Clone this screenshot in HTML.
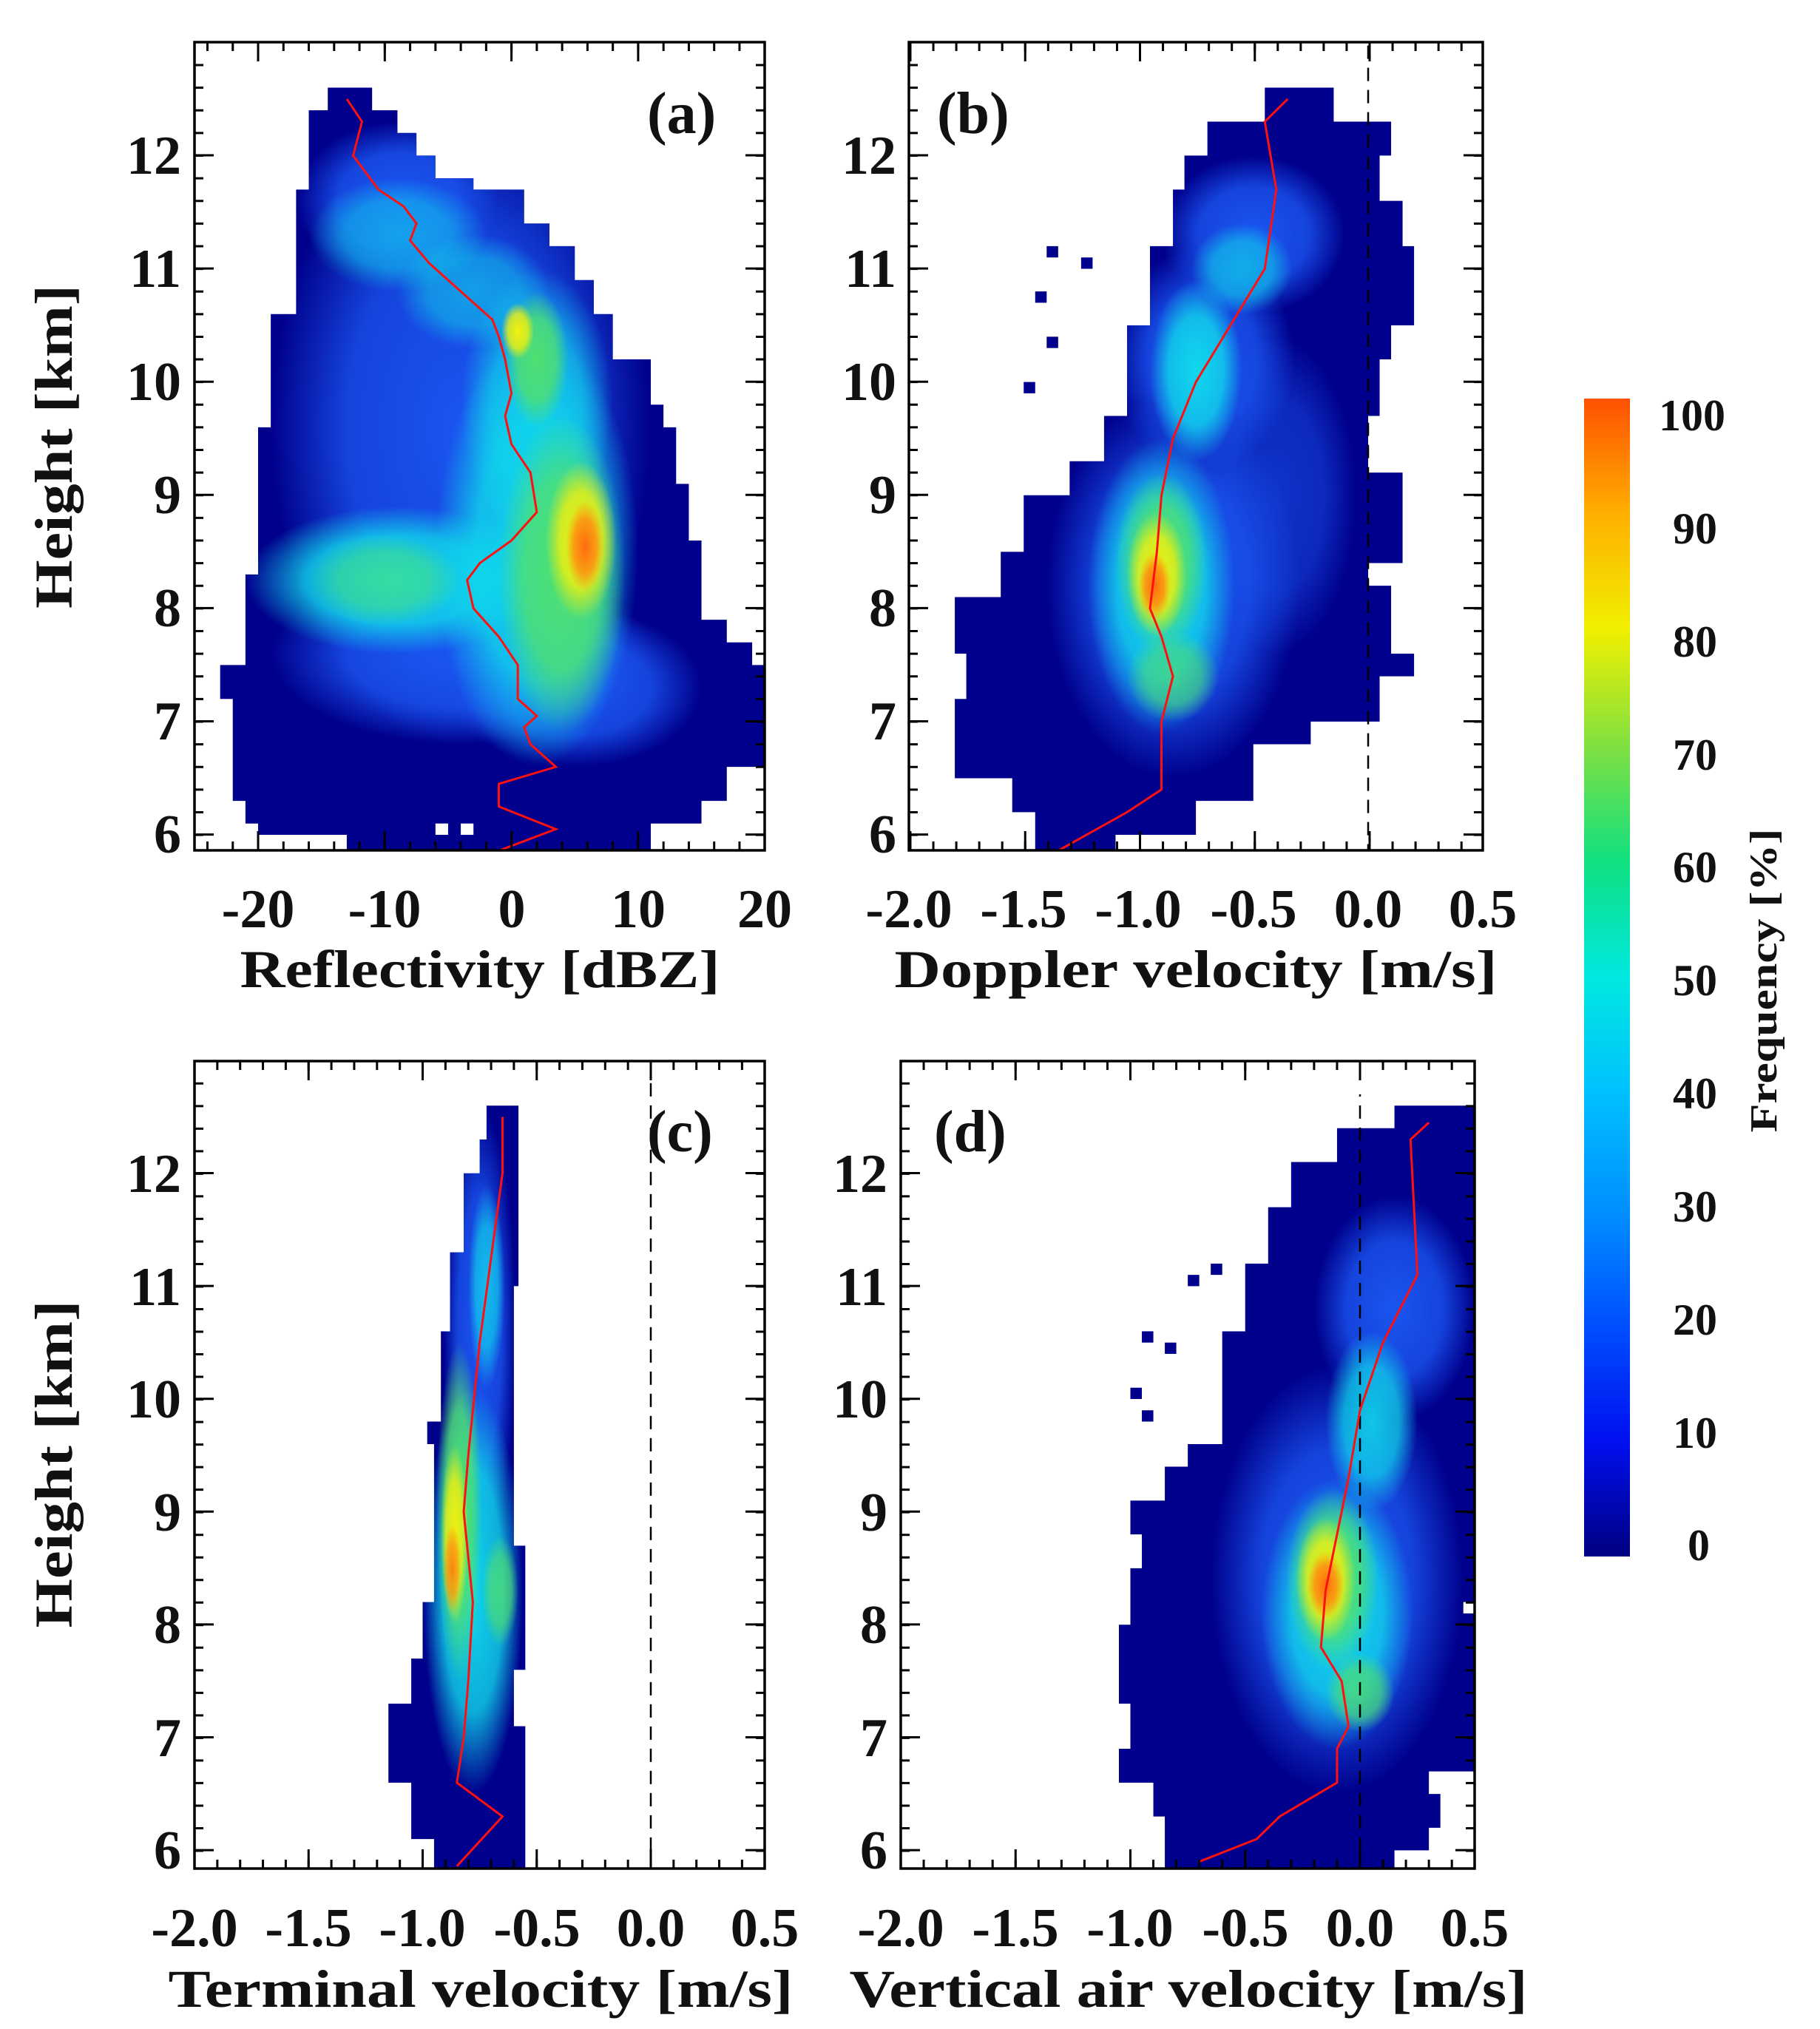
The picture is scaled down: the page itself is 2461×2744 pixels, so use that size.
<!DOCTYPE html>
<html><head><meta charset="utf-8"><style>
html,body{margin:0;padding:0;background:#fff;}
svg{display:block;}
text{font-family:"Liberation Serif",serif;font-weight:bold;fill:#111;}
</style></head><body>
<svg width="2461" height="2744" viewBox="0 0 2461 2744" xmlns="http://www.w3.org/2000/svg">
<defs>
<radialGradient id="gB"><stop offset="0" stop-color="#1a55f0" stop-opacity="1"/><stop offset="0.6" stop-color="#1a55f0" stop-opacity="0.8"/><stop offset="1" stop-color="#1a55f0" stop-opacity="0"/></radialGradient>
<radialGradient id="gC"><stop offset="0" stop-color="#10d8ec" stop-opacity="1"/><stop offset="0.6" stop-color="#10d8ec" stop-opacity="0.8"/><stop offset="1" stop-color="#10d8ec" stop-opacity="0"/></radialGradient>
<radialGradient id="gG"><stop offset="0" stop-color="#50e070" stop-opacity="1"/><stop offset="0.6" stop-color="#50e070" stop-opacity="0.8"/><stop offset="1" stop-color="#50e070" stop-opacity="0"/></radialGradient>
<radialGradient id="gY"><stop offset="0" stop-color="#f0f010" stop-opacity="1"/><stop offset="0.6" stop-color="#f0f010" stop-opacity="0.8"/><stop offset="1" stop-color="#f0f010" stop-opacity="0"/></radialGradient>
<radialGradient id="gO"><stop offset="0" stop-color="#ff6a10" stop-opacity="1"/><stop offset="0.6" stop-color="#ff8a10" stop-opacity="0.8"/><stop offset="1" stop-color="#ff9a10" stop-opacity="0"/></radialGradient>
<linearGradient id="cb" x1="0" y1="1" x2="0" y2="0">
<stop offset="0" stop-color="#000080"/><stop offset="0.1" stop-color="#0010f0"/><stop offset="0.2" stop-color="#0050ff"/><stop offset="0.3" stop-color="#0090ff"/><stop offset="0.4" stop-color="#00c0ff"/><stop offset="0.5" stop-color="#00e8e0"/><stop offset="0.6" stop-color="#10e080"/><stop offset="0.7" stop-color="#80e040"/><stop offset="0.8" stop-color="#f0f000"/><stop offset="0.9" stop-color="#ffb000"/><stop offset="1" stop-color="#ff5000"/>
</linearGradient>
<clipPath id="ca"><rect x="263" y="57" width="771" height="1093"/></clipPath>
<clipPath id="cbp"><rect x="1229" y="57" width="776" height="1093"/></clipPath>
<clipPath id="cc"><rect x="263" y="1435" width="771" height="1092"/></clipPath>
<clipPath id="cd"><rect x="1218" y="1435" width="776" height="1092"/></clipPath>
<clipPath id="pa"><polygon points="-14.5,12.6 -11,12.6 -11,12.4 -9,12.4 -9,12.2 -7.5,12.2 -7.5,12.0 -6,12.0 -6,11.8 -3,11.8 -3,11.7 1,11.7 1,11.4 3,11.4 3,11.2 5,11.2 5,10.9 6.5,10.9 6.5,10.6 8,10.6 8,10.2 11,10.2 11,9.8 12,9.8 12,9.6 13,9.6 13,9.1 14,9.1 14,8.6 15,8.6 15,7.9 17,7.9 17,7.7 19,7.7 19,7.5 21,7.5 21,6.6 17,6.6 17,6.3 15,6.3 15,6.1 11,6.1 11,5.8 -13,5.8 -13,6.0 -20,6.0 -20,6.1 -21,6.1 -21,6.3 -22,6.3 -22,7.2 -23,7.2 -23,7.5 -21,7.5 -21,8.3 -20,8.3 -20,9.6 -19,9.6 -19,10.6 -17,10.6 -17,11.7 -16,11.7 -16,12.4 -14.5,12.4"/></clipPath>
<clipPath id="pb"><polygon points="-0.45,12.6 -0.15,12.6 -0.15,12.3 0.1,12.3 0.1,12.0 0.05,12.0 0.05,11.6 0.15,11.6 0.15,11.2 0.2,11.2 0.2,10.5 0.1,10.5 0.1,10.2 0.05,10.2 0.05,9.7 0.0,9.7 0.0,9.2 0.15,9.2 0.15,8.4 0.0,8.4 0.0,8.2 0.1,8.2 0.1,7.6 0.2,7.6 0.2,7.4 0.05,7.4 0.05,7.0 -0.25,7.0 -0.25,6.8 -0.5,6.8 -0.5,6.3 -0.75,6.3 -0.75,6.0 -1.1,6.0 -1.1,5.8 -1.45,5.8 -1.45,6.2 -1.55,6.2 -1.55,6.5 -1.8,6.5 -1.8,7.2 -1.75,7.2 -1.75,7.6 -1.8,7.6 -1.8,8.1 -1.6,8.1 -1.6,8.5 -1.5,8.5 -1.5,9.0 -1.3,9.0 -1.3,9.3 -1.15,9.3 -1.15,9.7 -1.05,9.7 -1.05,10.5 -0.95,10.5 -0.95,11.2 -0.85,11.2 -0.85,11.7 -0.8,11.7 -0.8,12.0 -0.7,12.0 -0.7,12.3 -0.45,12.3"/></clipPath>
<clipPath id="pc"><polygon points="-0.72,12.6 -0.58,12.6 -0.58,11.0 -0.6,11.0 -0.6,8.7 -0.55,8.7 -0.55,7.6 -0.6,7.6 -0.6,7.1 -0.55,7.1 -0.55,5.8 -0.95,5.8 -0.95,6.1 -1.05,6.1 -1.05,6.6 -1.15,6.6 -1.15,7.3 -1.05,7.3 -1.05,7.7 -1.0,7.7 -1.0,8.2 -0.95,8.2 -0.95,9.6 -0.98,9.6 -0.98,9.8 -0.92,9.8 -0.92,10.6 -0.88,10.6 -0.88,11.3 -0.82,11.3 -0.82,12.0 -0.75,12.0 -0.75,12.3 -0.72,12.3"/></clipPath>
<clipPath id="pd"><polygon points="0.15,12.6 0.5,12.6 0.5,8.2 0.45,8.2 0.45,8.1 0.5,8.1 0.5,6.7 0.3,6.7 0.3,6.5 0.35,6.5 0.35,6.2 0.3,6.2 0.3,6.0 0.15,6.0 0.15,5.8 -0.85,5.8 -0.85,6.3 -0.9,6.3 -0.9,6.6 -1.05,6.6 -1.05,6.9 -1.0,6.9 -1.0,7.3 -1.05,7.3 -1.05,8.0 -1.0,8.0 -1.0,8.5 -0.95,8.5 -0.95,8.8 -1.0,8.8 -1.0,9.1 -0.85,9.1 -0.85,9.4 -0.75,9.4 -0.75,9.6 -0.6,9.6 -0.6,10.6 -0.5,10.6 -0.5,11.2 -0.4,11.2 -0.4,11.7 -0.3,11.7 -0.3,12.1 -0.1,12.1 -0.1,12.4 0.15,12.4"/></clipPath>
</defs>

<!-- Panel a -->
<g clip-path="url(#ca)">
<g transform="matrix(17.13 0 0 -153.1 691.6 2047.6)">
<rect x="-30" y="5" width="60" height="9" fill="#00008c" clip-path="url(#pa)"/>
<rect x="-6" y="6.0" width="1" height="0.1" fill="#fff"/><rect x="-4" y="6.0" width="1" height="0.1" fill="#fff"/>
<g clip-path="url(#pa)">
<ellipse cx="-4" cy="9.6" rx="15" ry="2.8" fill="url(#gB)"/>
<ellipse cx="-4" cy="7.6" rx="15" ry="0.8" fill="url(#gB)"/>
<ellipse cx="-9" cy="11.6" rx="8" ry="0.7" fill="url(#gB)"/>
<ellipse cx="5" cy="7.3" rx="10" ry="0.7" fill="url(#gB)"/>
<ellipse cx="-9" cy="11.3" rx="7" ry="0.5" fill="url(#gC)" opacity="0.6"/>
<ellipse cx="-3" cy="10.8" rx="6" ry="0.5" fill="url(#gC)" opacity="0.6"/>
<ellipse cx="-9" cy="8.25" rx="12" ry="0.65" fill="url(#gC)"/>
<ellipse cx="2" cy="8.5" rx="8" ry="1.9" fill="url(#gC)"/>
<ellipse cx="2" cy="9.8" rx="6" ry="1.2" fill="url(#gC)" opacity="0.8"/>
<ellipse cx="-10" cy="8.25" rx="6" ry="0.4" fill="url(#gG)" opacity="0.6"/>
<ellipse cx="4" cy="8.3" rx="5" ry="1.4" fill="url(#gG)"/>
<ellipse cx="2" cy="10.2" rx="2.5" ry="0.6" fill="url(#gG)"/>
<ellipse cx="5.5" cy="8.6" rx="2.8" ry="0.7" fill="url(#gY)"/>
<ellipse cx="0.5" cy="10.45" rx="1.3" ry="0.25" fill="url(#gY)"/>
<ellipse cx="5.8" cy="8.55" rx="1.5" ry="0.4" fill="url(#gO)"/>
</g>
<polyline fill="none" stroke="#ff1010" stroke-width="3" vector-effect="non-scaling-stroke" points="-13,12.5 -11.8,12.3 -12.5,12.0 -10.5,11.7 -8.5,11.55 -7.5,11.4 -8,11.25 -6.5,11.05 -4,10.8 -1.5,10.55 -1,10.4 -0.5,10.2 0,9.9 -0.5,9.7 0,9.45 1.5,9.2 2,8.85 0,8.6 -2.5,8.4 -3.5,8.25 -3,8.0 -1,7.75 0.5,7.5 0.5,7.2 2,7.05 1,6.95 1.5,6.8 3.5,6.6 -1,6.45 -1,6.25 3.5,6.05 -1,5.86"/>
</g></g>

<!-- Panel b -->
<g clip-path="url(#cbp)">
<g transform="matrix(310.5 0 0 -153.1 1850 2047.6)">
<rect x="-3" y="5" width="4" height="9" fill="#00008c" clip-path="url(#pb)"/>
<rect x="-1.4" y="11.1" width="0.05" height="0.1" fill="#00008c"/><rect x="-1.25" y="11.0" width="0.05" height="0.1" fill="#00008c"/><rect x="-1.45" y="10.7" width="0.05" height="0.1" fill="#00008c"/><rect x="-1.4" y="10.3" width="0.05" height="0.1" fill="#00008c"/><rect x="-1.5" y="9.9" width="0.05" height="0.1" fill="#00008c"/>
<g clip-path="url(#pb)">
<ellipse cx="-0.5" cy="11.3" rx="0.4" ry="0.7" fill="url(#gB)"/>
<ellipse cx="-0.72" cy="10.2" rx="0.4" ry="1.0" fill="url(#gB)"/>
<ellipse cx="-0.85" cy="8.2" rx="0.55" ry="1.7" fill="url(#gB)"/>
<ellipse cx="-0.4" cy="9.0" rx="0.35" ry="1.4" fill="url(#gB)" opacity="0.6"/>
<ellipse cx="-0.55" cy="11.0" rx="0.22" ry="0.4" fill="url(#gC)" opacity="0.7"/>
<ellipse cx="-0.75" cy="10.1" rx="0.2" ry="0.8" fill="url(#gC)"/>
<ellipse cx="-0.9" cy="8.2" rx="0.32" ry="1.3" fill="url(#gC)"/>
<ellipse cx="-0.9" cy="8.4" rx="0.2" ry="0.8" fill="url(#gG)"/>
<ellipse cx="-0.85" cy="7.4" rx="0.2" ry="0.4" fill="url(#gG)" opacity="0.7"/>
<ellipse cx="-0.92" cy="8.3" rx="0.13" ry="0.55" fill="url(#gY)"/>
<ellipse cx="-0.93" cy="8.2" rx="0.07" ry="0.3" fill="url(#gO)"/>
</g>
<line x1="0" y1="5.8" x2="0" y2="13" stroke="#000" stroke-width="2.5" stroke-dasharray="18 12" vector-effect="non-scaling-stroke"/>
<polyline fill="none" stroke="#ff1010" stroke-width="3" vector-effect="non-scaling-stroke" points="-0.35,12.5 -0.45,12.3 -0.4,11.7 -0.45,11.0 -0.6,10.5 -0.75,10.0 -0.85,9.5 -0.9,9.0 -0.92,8.5 -0.95,8.0 -0.9,7.75 -0.85,7.4 -0.9,7.0 -0.9,6.4 -1.05,6.2 -1.35,5.86"/>
</g></g>

<!-- Panel c -->
<g clip-path="url(#cc)">
<g transform="matrix(308.5 0 0 -152.6 880 3418)">
<rect x="-3" y="5" width="4" height="9" fill="#00008c" clip-path="url(#pc)"/>
<g clip-path="url(#pc)">
<ellipse cx="-0.75" cy="10.6" rx="0.16" ry="2.0" fill="url(#gB)"/>
<ellipse cx="-0.78" cy="8.3" rx="0.22" ry="1.8" fill="url(#gC)"/>
<ellipse cx="-0.72" cy="11.0" rx="0.08" ry="0.9" fill="url(#gC)" opacity="0.8"/>
<ellipse cx="-0.84" cy="9.0" rx="0.1" ry="1.5" fill="url(#gG)"/>
<ellipse cx="-0.66" cy="8.3" rx="0.08" ry="0.5" fill="url(#gG)" opacity="0.8"/>
<ellipse cx="-0.86" cy="8.8" rx="0.06" ry="0.8" fill="url(#gY)"/>
<ellipse cx="-0.87" cy="8.5" rx="0.04" ry="0.4" fill="url(#gO)" opacity="0.8"/>
</g>
<line x1="0" y1="5.8" x2="0" y2="13" stroke="#000" stroke-width="2.5" stroke-dasharray="18 12" vector-effect="non-scaling-stroke"/>
<polyline fill="none" stroke="#ff1010" stroke-width="3" vector-effect="non-scaling-stroke" points="-0.65,12.5 -0.65,12 -0.75,10.5 -0.8,9.5 -0.82,9 -0.78,8.2 -0.8,7.5 -0.82,7 -0.85,6.6 -0.65,6.3 -0.85,5.86"/>
</g></g>

<!-- Panel d -->
<g clip-path="url(#cd)">
<g transform="matrix(310.5 0 0 -152.6 1839 3418)">
<rect x="-3" y="5" width="4" height="9" fill="#00008c" clip-path="url(#pd)"/>
<rect x="-0.95" y="10.5" width="0.05" height="0.1" fill="#00008c"/><rect x="-0.85" y="10.4" width="0.05" height="0.1" fill="#00008c"/><rect x="-1.0" y="10.0" width="0.05" height="0.1" fill="#00008c"/><rect x="-0.95" y="9.8" width="0.05" height="0.1" fill="#00008c"/><rect x="-0.75" y="11.0" width="0.05" height="0.1" fill="#00008c"/><rect x="-0.65" y="11.1" width="0.05" height="0.1" fill="#00008c"/>
<g clip-path="url(#pd)">
<ellipse cx="0.15" cy="10.8" rx="0.35" ry="1.0" fill="url(#gB)"/>
<ellipse cx="-0.1" cy="8.4" rx="0.55" ry="1.9" fill="url(#gB)"/>
<ellipse cx="0.05" cy="9.8" rx="0.2" ry="0.8" fill="url(#gC)" opacity="0.9"/>
<ellipse cx="-0.1" cy="8.1" rx="0.33" ry="1.2" fill="url(#gC)"/>
<ellipse cx="-0.12" cy="8.4" rx="0.2" ry="0.8" fill="url(#gG)"/>
<ellipse cx="0.0" cy="7.4" rx="0.15" ry="0.35" fill="url(#gG)" opacity="0.8"/>
<ellipse cx="-0.15" cy="8.4" rx="0.13" ry="0.55" fill="url(#gY)"/>
<ellipse cx="-0.15" cy="8.35" rx="0.08" ry="0.3" fill="url(#gO)"/>
</g>
<line x1="0" y1="5.8" x2="0" y2="12.7" stroke="#000" stroke-width="2.5" stroke-dasharray="18 12" vector-effect="non-scaling-stroke"/>
<polyline fill="none" stroke="#ff1010" stroke-width="3" vector-effect="non-scaling-stroke" points="0.3,12.45 0.22,12.3 0.25,11.1 0.1,10.5 0.0,9.9 -0.05,9.3 -0.1,8.8 -0.15,8.3 -0.17,7.8 -0.08,7.5 -0.05,7.1 -0.1,6.9 -0.1,6.6 -0.35,6.3 -0.45,6.1 -0.7,5.9"/>
</g></g>

<!-- Frames and ticks -->
<g stroke="#000" fill="none">
<rect x="263" y="57" width="771" height="1093" stroke-width="3.5"/>
<rect x="1229" y="57" width="776" height="1093" stroke-width="3.5"/>
<rect x="263" y="1435" width="771" height="1092" stroke-width="3.5"/>
<rect x="1218" y="1435" width="776" height="1092" stroke-width="3.5"/>
<line x1="279" y1="1144" x2="1034" y2="1144" stroke-width="12" stroke-dasharray="3 31.26"/>
<line x1="279" y1="63" x2="1034" y2="63" stroke-width="12" stroke-dasharray="3 31.26"/>
<line x1="347.5" y1="1137" x2="1034" y2="1137" stroke-width="26" stroke-dasharray="3 168.3"/>
<line x1="347.5" y1="70" x2="1034" y2="70" stroke-width="26" stroke-dasharray="3 168.3"/>
<line x1="269" y1="86.5" x2="269" y2="1150" stroke-width="12" stroke-dasharray="3 27.62"/>
<line x1="1028" y1="86.5" x2="1028" y2="1150" stroke-width="12" stroke-dasharray="3 27.62"/>
<line x1="276" y1="208.5" x2="276" y2="1150" stroke-width="26" stroke-dasharray="3 150.1"/>
<line x1="1021" y1="208.5" x2="1021" y2="1150" stroke-width="26" stroke-dasharray="3 150.1"/>
<line x1="1229.5" y1="1144" x2="2005" y2="1144" stroke-width="12" stroke-dasharray="3 28.05"/>
<line x1="1229.5" y1="63" x2="2005" y2="63" stroke-width="12" stroke-dasharray="3 28.05"/>
<line x1="1229.5" y1="1137" x2="2005" y2="1137" stroke-width="26" stroke-dasharray="3 152.25"/>
<line x1="1229.5" y1="70" x2="2005" y2="70" stroke-width="26" stroke-dasharray="3 152.25"/>
<line x1="1235" y1="86.5" x2="1235" y2="1150" stroke-width="12" stroke-dasharray="3 27.62"/>
<line x1="1999" y1="86.5" x2="1999" y2="1150" stroke-width="12" stroke-dasharray="3 27.62"/>
<line x1="1242" y1="208.5" x2="1242" y2="1150" stroke-width="26" stroke-dasharray="3 150.1"/>
<line x1="1992" y1="208.5" x2="1992" y2="1150" stroke-width="26" stroke-dasharray="3 150.1"/>
<line x1="261.5" y1="2521" x2="1034" y2="2521" stroke-width="12" stroke-dasharray="3 27.85"/>
<line x1="261.5" y1="1441" x2="1034" y2="1441" stroke-width="12" stroke-dasharray="3 27.85"/>
<line x1="261.5" y1="2514" x2="1034" y2="2514" stroke-width="26" stroke-dasharray="3 151.25"/>
<line x1="261.5" y1="1448" x2="1034" y2="1448" stroke-width="26" stroke-dasharray="3 151.25"/>
<line x1="269" y1="1463.8" x2="269" y2="2527" stroke-width="12" stroke-dasharray="3 27.52"/>
<line x1="1028" y1="1463.8" x2="1028" y2="2527" stroke-width="12" stroke-dasharray="3 27.52"/>
<line x1="276" y1="1585" x2="276" y2="2527" stroke-width="26" stroke-dasharray="3 149.6"/>
<line x1="1021" y1="1585" x2="1021" y2="2527" stroke-width="26" stroke-dasharray="3 149.6"/>
<line x1="1216.5" y1="2521" x2="1994" y2="2521" stroke-width="12" stroke-dasharray="3 28.05"/>
<line x1="1216.5" y1="1441" x2="1994" y2="1441" stroke-width="12" stroke-dasharray="3 28.05"/>
<line x1="1216.5" y1="2514" x2="1994" y2="2514" stroke-width="26" stroke-dasharray="3 152.25"/>
<line x1="1216.5" y1="1448" x2="1994" y2="1448" stroke-width="26" stroke-dasharray="3 152.25"/>
<line x1="1224" y1="1463.8" x2="1224" y2="2527" stroke-width="12" stroke-dasharray="3 27.52"/>
<line x1="1988" y1="1463.8" x2="1988" y2="2527" stroke-width="12" stroke-dasharray="3 27.52"/>
<line x1="1231" y1="1585" x2="1231" y2="2527" stroke-width="26" stroke-dasharray="3 149.6"/>
<line x1="1981" y1="1585" x2="1981" y2="2527" stroke-width="26" stroke-dasharray="3 149.6"/>
</g>

<!-- Panel letters -->
<text x="875" y="180" font-size="80">(a)</text>
<text x="1267" y="180" font-size="80">(b)</text>
<text x="875" y="1557" font-size="80">(c)</text>
<text x="1263" y="1557" font-size="80">(d)</text>

<!-- Y tick labels -->
<g font-size="74" text-anchor="end">
<text x="245" y="235">12</text><text x="245" y="388">11</text><text x="245" y="541">10</text><text x="245" y="694">9</text><text x="245" y="847">8</text><text x="245" y="1000">7</text><text x="245" y="1153">6</text>
<text x="1212" y="235">12</text><text x="1212" y="388">11</text><text x="1212" y="541">10</text><text x="1212" y="694">9</text><text x="1212" y="847">8</text><text x="1212" y="1000">7</text><text x="1212" y="1153">6</text>
<text x="245" y="1612">12</text><text x="245" y="1765">11</text><text x="245" y="1917">10</text><text x="245" y="2070">9</text><text x="245" y="2222">8</text><text x="245" y="2375">7</text><text x="245" y="2527">6</text>
<text x="1200" y="1612">12</text><text x="1200" y="1765">11</text><text x="1200" y="1917">10</text><text x="1200" y="2070">9</text><text x="1200" y="2222">8</text><text x="1200" y="2375">7</text><text x="1200" y="2527">6</text>
</g>
<!-- X tick labels -->
<g font-size="74" text-anchor="middle">
<text x="349" y="1254">-20</text><text x="520" y="1254">-10</text><text x="692" y="1254">0</text><text x="863" y="1254">10</text><text x="1034" y="1254">20</text>
<text x="1229" y="1254">-2.0</text><text x="1384" y="1254">-1.5</text><text x="1539" y="1254">-1.0</text><text x="1695" y="1254">-0.5</text><text x="1850" y="1254">0.0</text><text x="2005" y="1254">0.5</text>
<text x="263" y="2632">-2.0</text><text x="417" y="2632">-1.5</text><text x="571" y="2632">-1.0</text><text x="726" y="2632">-0.5</text><text x="880" y="2632">0.0</text><text x="1034" y="2632">0.5</text>
<text x="1218" y="2632">-2.0</text><text x="1373" y="2632">-1.5</text><text x="1528" y="2632">-1.0</text><text x="1684" y="2632">-0.5</text><text x="1839" y="2632">0.0</text><text x="1994" y="2632">0.5</text>
</g>
<!-- Axis titles -->
<g font-size="72" text-anchor="middle">
<text x="649" y="1335" textLength="649" lengthAdjust="spacingAndGlyphs">Reflectivity [dBZ]</text>
<text x="1617" y="1335" textLength="815" lengthAdjust="spacingAndGlyphs">Doppler velocity [m/s]</text>
<text x="650" y="2714" textLength="845" lengthAdjust="spacingAndGlyphs">Terminal velocity [m/s]</text>
<text x="1607" y="2714" textLength="917" lengthAdjust="spacingAndGlyphs">Vertical air velocity [m/s]</text>
<text transform="translate(97 604) rotate(-90)" textLength="438" lengthAdjust="spacingAndGlyphs">Height [km]</text>
<text transform="translate(97 1980) rotate(-90)" textLength="443" lengthAdjust="spacingAndGlyphs">Height [km]</text>
</g>

<!-- Colorbar -->
<rect x="2142" y="539" width="62" height="1566" fill="url(#cb)"/>
<g font-size="60" text-anchor="start">
<text x="2243" y="582">100</text><text x="2262" y="735">90</text><text x="2262" y="888">80</text><text x="2262" y="1041">70</text><text x="2262" y="1193">60</text><text x="2262" y="1346">50</text><text x="2262" y="1499">40</text><text x="2262" y="1652">30</text><text x="2262" y="1805">20</text><text x="2262" y="1958">10</text><text x="2282" y="2110">0</text>
</g>
<text transform="translate(2402 1326) rotate(-90)" font-size="52" text-anchor="middle" textLength="411" lengthAdjust="spacingAndGlyphs">Frequency [%]</text>
</svg>
</body></html>
